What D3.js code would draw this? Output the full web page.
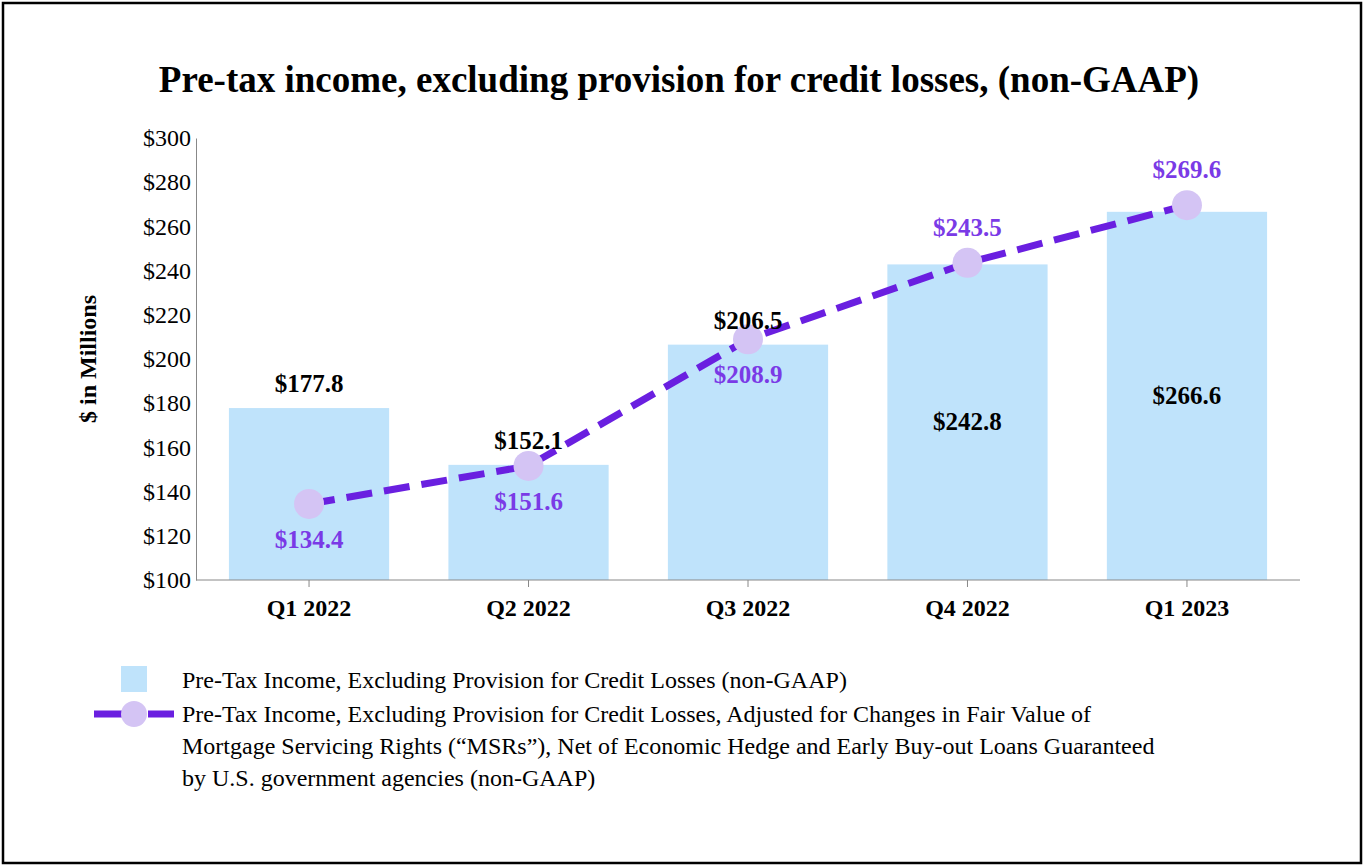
<!DOCTYPE html>
<html lang="en">
<head>
<meta charset="UTF-8">
<title>Pre-tax income chart</title>
<style>
    body { margin: 0; background: #fff; }
    text { font-family: "Liberation Serif", "Times New Roman", serif; }
</style>
</head>
<body>
<div id="chart"></div>
<script src="https://d3js.org/d3.v7.min.js"></script>
<script>
    "use strict";

    var quarters = ["Q1 2022", "Q2 2022", "Q3 2022", "Q4 2022", "Q1 2023"];
    var pretaxValues = [177.8, 152.1, 206.5, 242.8, 266.6];
    var adjustedValues = [134.4, 151.6, 208.9, 243.5, 269.6];
    var yTicks = [100, 120, 140, 160, 180, 200, 220, 240, 260, 280, 300];

    var W = 1364, H = 866;
    var margin = { top: 138, right: 64, bottom: 286, left: 196 };

    var svg = d3.select("#chart").append("svg")
        .attr("width", W).attr("height", H);

    // outer frame
    svg.append("rect").attr("x", 3).attr("y", 3).attr("width", W - 6).attr("height", H - 6)
        .attr("fill", "none").attr("stroke", "#000").attr("stroke-width", 2.5);

    svg.append("text").attr("x", 679).attr("y", 92).attr("text-anchor", "middle")
        .attr("font-size", 37).attr("font-weight", "bold")
        .text("Pre-tax income, excluding provision for credit losses, (non-GAAP)");

    var x = d3.scaleBand().domain(quarters)
        .range([margin.left, W - margin.right]).paddingInner(0.27).paddingOuter(0.15);
    var y = d3.scaleLinear().domain([100, 300]).range([H - margin.bottom, margin.top]);

    // bars
    svg.selectAll(".bar").data(pretaxValues).enter().append("rect")
        .attr("x", function (d, i) { return x(quarters[i]); })
        .attr("y", function (d) { return y(d); })
        .attr("width", x.bandwidth())
        .attr("height", function (d) { return y(100) - y(d); })
        .attr("fill", "#bfe3fb");

    // axes
    var yAxis = svg.append("g").attr("transform", "translate(" + margin.left + ",0)")
        .call(d3.axisLeft(y).tickValues(yTicks).tickSize(0).tickPadding(5)
            .tickFormat(function (d) { return "$" + d; }));
    yAxis.select(".domain").attr("stroke", "#888");
    yAxis.selectAll("text").attr("font-size", 24).attr("fill", "#000")
        .style("font-family", "Liberation Serif, serif");

    var xAxis = svg.append("g").attr("transform", "translate(0," + y(100) + ")")
        .call(d3.axisBottom(x).tickSize(7).tickPadding(12));
    xAxis.select(".domain").attr("stroke", "#888").attr("d", "M" + margin.left + ",0H" + (W - margin.right));
    xAxis.selectAll("line").attr("stroke", "#888");
    xAxis.selectAll("text").attr("font-size", 24).attr("font-weight", "bold").attr("fill", "#000")
        .style("font-family", "Liberation Serif, serif");

    svg.append("text").attr("transform", "translate(96," + ((y(100) + y(300)) / 2) + ") rotate(-90)")
        .attr("text-anchor", "middle").attr("font-size", 24).attr("font-weight", "bold")
        .text("$ in Millions");

    // line
    var cx = function (i) { return x(quarters[i]) + x.bandwidth() / 2; };
    var line = d3.line().x(function (d, i) { return cx(i); }).y(function (d) { return y(d); });
    svg.append("path").datum(adjustedValues).attr("d", line)
        .attr("fill", "none").attr("stroke", "#6a1fe0").attr("stroke-width", 7)
        .attr("stroke-dasharray", "26,12");
    svg.selectAll(".dot").data(adjustedValues).enter().append("circle")
        .attr("cx", function (d, i) { return cx(i); })
        .attr("cy", function (d) { return y(d); })
        .attr("r", 15).attr("fill", "#d4c4f4");

    // labels: first three above the bar, last two centred inside it
    svg.selectAll(".blab").data(pretaxValues).enter().append("text")
        .attr("x", function (d, i) { return cx(i); })
        .attr("y", function (d, i) { return i < 3 ? y(d) - 16 : (y(d) + y(100)) / 2 + 8; })
        .attr("text-anchor", "middle").attr("font-size", 25).attr("font-weight", "bold")
        .text(function (d) { return "$" + d.toFixed(1); });

    svg.selectAll(".llab").data(adjustedValues).enter().append("text")
        .attr("x", function (d, i) { return cx(i); })
        .attr("y", function (d, i) { return i < 3 ? y(d) + 44 : y(d) - 27; })
        .attr("text-anchor", "middle").attr("font-size", 25).attr("font-weight", "bold")
        .attr("fill", "#7a3ae6")
        .text(function (d) { return "$" + d.toFixed(1); });

    // legend
    var lg = svg.append("g");
    lg.append("rect").attr("x", 121).attr("y", 666).attr("width", 26).attr("height", 26).attr("fill", "#bfe3fb");
    lg.append("text").attr("x", 182).attr("y", 688).attr("font-size", 24)
        .text("Pre-Tax Income, Excluding Provision for Credit Losses (non-GAAP)");
    lg.append("line").attr("x1", 94).attr("x2", 174).attr("y1", 714).attr("y2", 714)
        .attr("stroke", "#6a1fe0").attr("stroke-width", 7).attr("stroke-dasharray", "28,26");
    lg.append("circle").attr("cx", 134).attr("cy", 714).attr("r", 13).attr("fill", "#d4c4f4");
    ["Pre-Tax Income, Excluding Provision for Credit Losses, Adjusted for Changes in Fair Value of",
     "Mortgage Servicing Rights (\u201cMSRs\u201d), Net of Economic Hedge and Early Buy-out Loans Guaranteed",
     "by U.S. government agencies (non-GAAP)"].forEach(function (t, i) {
        lg.append("text").attr("x", 182).attr("y", 722 + i * 32).attr("font-size", 24).text(t);
    });
</script>
</body>
</html>
